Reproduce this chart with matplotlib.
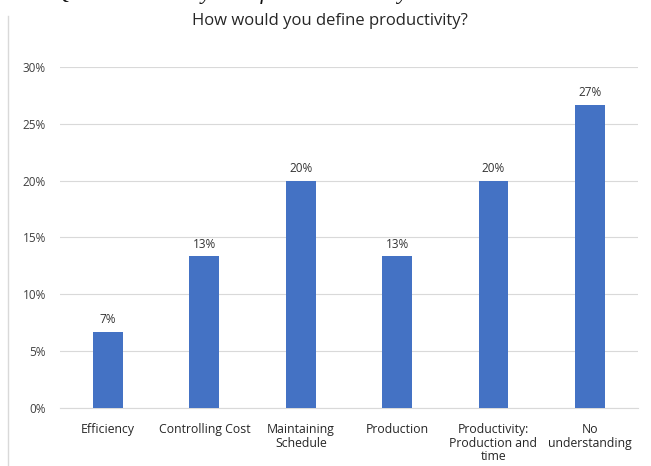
import matplotlib.pyplot as plt
from matplotlib.lines import Line2D

categories = ["Efficiency", "Controlling Cost", "Maintaining\nSchedule", "Production",
              "Productivity:\nProduction and\ntime", "No\nunderstanding"]
values = [6.67, 13.33, 20.0, 13.33, 20.0, 26.67]
labels = ["7%", "13%", "20%", "13%", "20%", "27%"]
yticks = [0, 5, 10, 15, 20, 25, 30]

plt.rcParams['font.family'] = ['Open Sans', 'DejaVu Sans']

fig = plt.figure(figsize=(6.51, 4.66), dpi=100)
ax = fig.add_axes([0.092, 0.1245, 0.888, 0.7318])

x = range(len(categories))
bars = ax.bar(x, values, width=0.31, color='#4472C4', zorder=3)
for b, lab in zip(bars, labels):
    ax.text(b.get_x() + b.get_width() / 2, b.get_height() + 0.5, lab,
            ha='center', va='bottom', fontsize=8.5, color='#333333')

ax.set_xlim(-0.5, len(categories) - 0.5)
ax.set_ylim(0, 30)
ax.set_yticks(yticks)
ax.set_yticklabels([f"{t}%" for t in yticks], fontsize=8.5, color='#404040')
ax.set_xticks(list(x))
ax.set_xticklabels(categories, fontsize=8.8, color='#262626', linespacing=1.05)
ax.tick_params(length=0, axis='y', pad=10)
ax.tick_params(length=0, axis='x', pad=11)
ax.grid(axis='y', color='#d9d9d9', linewidth=0.8, zorder=0)
for s in ['top', 'right', 'left']:
    ax.spines[s].set_visible(False)
ax.spines['bottom'].set_color('#d9d9d9')

fig.text(0.507, 0.955, "How would you define productivity?", ha='center', va='center',
         fontsize=12, color='#262626')

# caption cut off at the very top, as in the source screenshot
fig.text(0.085, 1.012, "Q2. How would you define Productivity?", ha='left', va='center',
         fontsize=16, family='Liberation Serif', style='italic', color='#111111')

# left border of the chart frame
fig.add_artist(Line2D([0.013, 0.013], [0.0, 0.965], transform=fig.transFigure,
                      color='#d9d9d9', linewidth=1))

fig.savefig("out.png", dpi=100)
